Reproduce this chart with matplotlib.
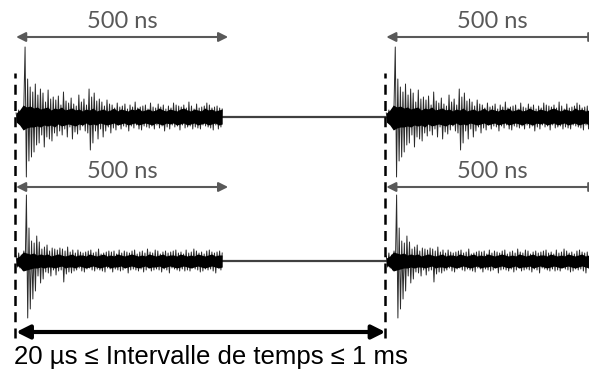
import numpy as np
import matplotlib.pyplot as plt

# time axis in ns (display scale), amplitudes in arbitrary units
burst_len = 486          # ns recorded per burst
burst_starts = [0, 873]  # the gap between bursts is shown compressed
window = 500             # ns, width of the labelled arrows
row_base = [261, 117]    # baseline of each trace

# trace 1 (upper row)
w1 = [4, -5, 7, -6, 5, -8, 9, 70, -60,
      38, -44, 30, -40, 25, -35, 33, -28,
      22, -26, 28, -18, 24, -30, 15, -20, 27, -22, 18, -24, 20, -16,
      17, -19, 21, -14, 12, -18, 25, -12, 16, -20, 14, -10, 19, -22, 13, -15,
      11, -17, 22, -13, 15, -9, 18, -14, 12, -16,
      28, -33, 20, -26, 24, -14, 16, -22,
      18, -12, 15, -20, 11, -14, 17, -10, 13, -16, 12,
      -11, 9, -13, 14, -8, 10, -12, 11, -9, 13, -10, 8, -14, 12, -9, 10, -11, 15,
      -8, 9, -12, 10, -13, 11, -9, 12, -10, 8, -11, 14, -9, 10, -12, 9, -8, 13,
      -11, 10, -9, 12, -14, 8, -10, 11, -12, 9, -8, 14, -10, 12, -9, 11, -13, 10,
      -8, 12, -11, 9, -10, 15, -9, 11, -12, 8, -10, 13, -11, 9, -12, 10, -8, 11,
      -9, 14, -10, 12, -11, 9, -13, 10, -8, 11, -12, 9, -10, 8]

# trace 2 (lower row)
w2 = [5, -6, 8, -7, 6, -9, 10, -8, 66, -57,
      33, -48, 20, -38, 18, -30, 25, -15, 19, -22, 12,
      -18, 14, -11, 16, -12, 10, -15, 13, -9, 12, -14, 11, -10, 13, -9,
      12, -21, 10, -13, 14, -11, 9, -12, 11,
      -10, 8, -9, 11, -7, 9, -10, 8, -11, 9, -8, 10, -7, 11, -9, 8, -10, 9,
      -8, 12, -9, 7, -10, 8, -11, 9, -7, 10, -8, 9, -11, 10, -8, 7, -9, 11,
      -10, 8, -9, 10, -7, 9, -12, 8, -9, 10, -8, 11, -9, 7, -10, 9, -8, 10,
      -11, 8, -9, 12, -7, 9, -10, 8, -9, 11, -8, 10, -9, 7, -11, 9, -8, 10,
      -9, 8, -12, 9, -7, 10, -8, 11, -9, 8, -10, 9, -8, 7, -10, 11, -9, 8,
      -10, 9, -7, 12, -8, 10, -9, 8, -11, 9, -10, 7, -8, 10, -9, 11, -8, 9,
      -10, 8, -12, 9, -7, 10, -9, 8]

# dense noise core (upper / lower half-width) of each trace
u1 = [4, 7, 12, 10, 11, 9, 10, 8, 9, 10, 7, 9, 8, 10, 7, 8, 9, 7, 8, 6,
      8, 7, 9, 6, 7, 8, 6, 7, 9, 6, 8, 7, 6, 8, 7, 9, 6, 7, 8, 6,
      7, 9, 7, 6, 8, 7, 6, 8, 9, 7, 6, 8, 7, 6, 9, 7, 8, 6, 7, 8]
l1 = [5, 8, 13, 11, 10, 10, 9, 10, 8, 9, 8, 10, 7, 9, 8, 7, 8, 9, 7, 8,
      6, 8, 7, 8, 6, 7, 8, 7, 6, 8, 7, 6, 8, 7, 6, 8, 7, 6, 7, 8,
      6, 7, 8, 6, 7, 6, 8, 7, 6, 8, 7, 6, 8, 7, 6, 8, 7, 6, 8, 7]
u2 = [3, 5, 9, 8, 7, 8, 6, 7, 6, 7, 5, 6, 7, 6, 5, 6, 7, 5, 6, 6,
      5, 7, 6, 5, 6, 7, 5, 6, 5, 7, 6, 5, 6, 7, 6, 5, 6, 5, 7, 6,
      5, 6, 7, 5, 6, 6, 5, 7, 6, 5, 6, 5, 7, 6, 5, 6, 7, 5, 6, 6]
l2 = [4, 6, 10, 9, 8, 7, 7, 6, 7, 6, 6, 7, 6, 5, 7, 6, 6, 7, 5, 6,
      7, 6, 5, 6, 7, 6, 5, 7, 6, 6, 5, 7, 6, 5, 6, 7, 6, 5, 7, 6,
      6, 5, 7, 6, 5, 6, 7, 6, 5, 6, 7, 6, 5, 6, 7, 6, 5, 6, 7, 6]

traces = [w1, w2]
cores = [(u1, l1), (u2, l2)]
arrow_y = [341, 191]
label_y = [357, 206]
interval_label = "20 µs ≤ Intervalle de temps ≤ 1 ms"

fig = plt.figure(figsize=(5.89, 3.78), dpi=100)
ax = fig.add_axes([0, 0, 1, 1])
ax.set_xlim(-38, 1351)
ax.set_ylim(0, 378)
ax.axis("off")

gray = "#595959"

for base, w, (up, lo), ay, ly in zip(row_base, traces, cores, arrow_y, label_y):
    for t0 in burst_starts:
        t = t0 + np.linspace(0, burst_len, len(w))
        ax.plot(t, base + np.array(w), color="#2b2b2b", lw=0.7, zorder=3)
        tc = t0 + np.linspace(0, burst_len, len(up))
        ax.fill_between(tc, base + np.array(up), base - np.array(lo),
                        color="black", lw=0, zorder=4)
        # 500 ns window arrow
        ax.annotate("", xy=(t0, ay), xytext=(t0 + window, ay),
                    arrowprops=dict(arrowstyle="<|-|>", color=gray, lw=1.5,
                                    mutation_scale=14, shrinkA=0, shrinkB=0))
        ax.text(t0 + window / 2, ly, "500 ns", color=gray, fontsize=17,
                family="Lato", ha="center", va="center")
    # flat line between the bursts
    ax.plot([burst_len, burst_starts[1]], [base, base], color="#404040", lw=1.6, zorder=2)

# dashed markers at the start of each burst
for t0 in burst_starts:
    ax.plot([t0 - 2, t0 - 2], [40, 305], color="black", lw=1.8,
            linestyle=(0, (4, 2.5)), zorder=5)

# interval arrow
ax.annotate("", xy=(burst_starts[0], 46), xytext=(burst_starts[1] - 2, 46),
            arrowprops=dict(arrowstyle="<|-|>", color="black", lw=3,
                            mutation_scale=20, shrinkA=0, shrinkB=0))
ax.text(-5, 21, interval_label, fontsize=18.5, family="Liberation Sans",
        ha="left", va="center", color="black")

fig.savefig("out.png", dpi=100)
